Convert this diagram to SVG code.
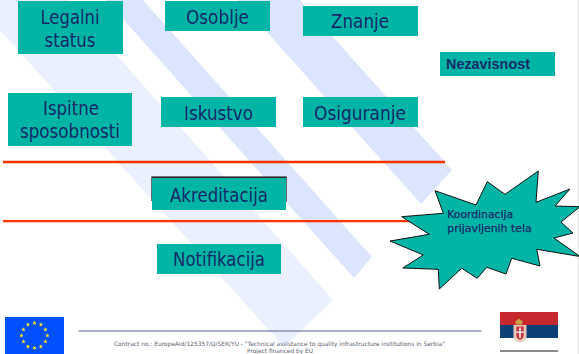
<svg xmlns="http://www.w3.org/2000/svg" width="579" height="354" viewBox="0 0 579 354">
<style>
.box{fill:#00b5a5}
.lbl{font-family:"DejaVu Sans","Noto Sans",sans-serif;font-size:19px;fill:#122b68;text-anchor:middle}
.small{font-family:"DejaVu Sans","Noto Sans",sans-serif;font-size:10.5px;fill:#122b68;stroke:#122b68;stroke-width:.25}
.foot{font-family:"DejaVu Sans","Noto Sans",sans-serif;font-size:6px;fill:#5a6072}
.red{stroke:#ff3300;stroke-width:2.3;fill:none}
</style>
<defs><polygon id="s" points="0,-2.3 .6,-.7 2.2,-.7 .9,.3 1.4,1.9 0,.9 -1.4,1.9 -.9,.3 -2.2,-.7 -.6,-.7" fill="#ffe81a"/></defs>
<rect width="579" height="354" fill="#fff"/>
<g id="background">
<polygon points="0,0 68,0 333,300 284,347 0,30" fill="#ebf0fe"/>
<polygon points="106,0 143,0 372,257 354,278" fill="#dbe5fd"/>
<polygon points="238,0 300,0 452,170 421,204" fill="#dbe5fd"/>
<rect x="578" y="0" width="1" height="354" fill="#e4e4e4"/>
</g>
<g id="connectors">
<line class="red" x1="3" y1="162" x2="445" y2="162"/>
<line class="red" x1="3" y1="221.2" x2="420" y2="221.2"/>
</g>
<g id="legalni"><rect class="box" x="18" y="1" width="105" height="53"/><text class="lbl" x="70" y="24" textLength="59" lengthAdjust="spacingAndGlyphs">Legalni</text><text class="lbl" x="70" y="47" textLength="51" lengthAdjust="spacingAndGlyphs">status</text></g>
<g id="osoblje"><rect class="box" x="165" y="1" width="105" height="30"/><text class="lbl" x="217.5" y="24" textLength="63" lengthAdjust="spacingAndGlyphs">Osoblje</text></g>
<g id="znanje"><rect class="box" x="303" y="6" width="115" height="30"/><text class="lbl" x="360" y="28.3" textLength="58" lengthAdjust="spacingAndGlyphs">Znanje</text></g>
<g id="nezavisnost"><rect class="box" x="440" y="52" width="115" height="24"/><text x="446" y="68.5" font-family="Liberation Sans,sans-serif" font-size="14" font-weight="bold" fill="#122b68" textLength="84" lengthAdjust="spacingAndGlyphs">Nezavisnost</text></g>
<g id="ispitne"><rect class="box" x="8" y="93" width="124" height="53"/><text class="lbl" x="71" y="115" textLength="56" lengthAdjust="spacingAndGlyphs">Ispitne</text><text class="lbl" x="70" y="138" textLength="100" lengthAdjust="spacingAndGlyphs">sposobnosti</text></g>
<g id="iskustvo"><rect class="box" x="161" y="97" width="115" height="30"/><text class="lbl" x="218.5" y="120" textLength="69" lengthAdjust="spacingAndGlyphs">Iskustvo</text></g>
<g id="osiguranje"><rect class="box" x="303" y="97" width="115" height="30"/><text class="lbl" x="360" y="120" textLength="92" lengthAdjust="spacingAndGlyphs">Osiguranje</text></g>
<g id="akreditacija"><path d="M151.500 201V176.700H286.500V201.500" fill="#1a1a1a" stroke="#6a6a70" stroke-width="1"/><rect class="box" x="152" y="178" width="134" height="32"/><text class="lbl" x="219" y="202" textLength="98" lengthAdjust="spacingAndGlyphs">Akreditacija</text></g>
<g id="notifikacija"><rect class="box" x="157" y="244" width="124" height="30"/><text class="lbl" x="219" y="266" textLength="92" lengthAdjust="spacingAndGlyphs">Notifikacija</text></g>
<g id="koordinacija"><polygon points="435,190.700 476,205 487.300,181.700 505,194.300 538.300,171 536,202.300 570,189 555,206 580,206.700 561,222 573,233 554,238 580,256.500 536.700,249.300 540,266 511.700,258.300 506,274 486.700,267.300 477.300,278.300 461.700,268.300 439.300,289 438.300,269.300 402.800,268 423.300,255 390,241 429.300,234.300 401.700,216.700 443.300,213.300" fill="#00b5a5" stroke="#111" stroke-width="1"/><text class="small" x="447.300" y="218" textLength="65.700" lengthAdjust="spacingAndGlyphs">Koordinacija</text><text class="small" x="447.300" y="232.300" textLength="84.400" lengthAdjust="spacingAndGlyphs">prijavljenih tela</text></g>
<g id="footer">
<line x1="78.500" y1="331" x2="481.500" y2="331" stroke="#56648f" stroke-width="1.200"/>
<text class="foot" x="114" y="345.500" textLength="331" lengthAdjust="spacingAndGlyphs">Contract no.: EuropeAid/125357/D/SER/YU - "Technical assistance to quality infrastructure institutions in Serbia"</text>
<text class="foot" x="247" y="353" textLength="66" lengthAdjust="spacingAndGlyphs">Project financed by EU</text>
</g>
<g id="eu-flag"><rect x="5" y="317" width="59" height="37" fill="#0050ff"/>
<g transform="translate(34.400 335.500)"><use href="#s" x="0" y="-12.500"/><use href="#s" x="6.500" y="-11"/><use href="#s" x="11" y="-6"/><use href="#s" x="13" y="0"/><use href="#s" x="11" y="6"/><use href="#s" x="6.500" y="11"/><use href="#s" x="0" y="12.500"/><use href="#s" x="-6.500" y="11"/><use href="#s" x="-11" y="6"/><use href="#s" x="-13" y="0"/><use href="#s" x="-11" y="-6"/><use href="#s" x="-6.500" y="-11"/></g></g>
<g id="serbia-flag"><rect x="500" y="312" width="58" height="13" fill="#c6282d"/><rect x="500" y="325" width="58" height="13" fill="#0c4076"/><rect x="500" y="350" width="58" height="2" fill="#8a8a8a"/>
<path d="M516 324.500l-.6-3.500 2-1 1.600-1.500 1.600 1.500 2 1-.6 3.500z" fill="#c9a24a"/><path d="M513.500 325h13v11.500q0 4-6.500 6-6.500-2-6.500-6z" fill="#e8c9b8"/><path d="M516.300 326.500h7.400v9q0 2.800-3.700 4.300-3.700-1.500-3.700-4.300z" fill="#c6363c"/><path d="M519.200 327.500h1.600v4h3v1.500h-3v5h-1.600v-5h-3v-1.500h3z" fill="#f4eeee"/></g>
</svg>
